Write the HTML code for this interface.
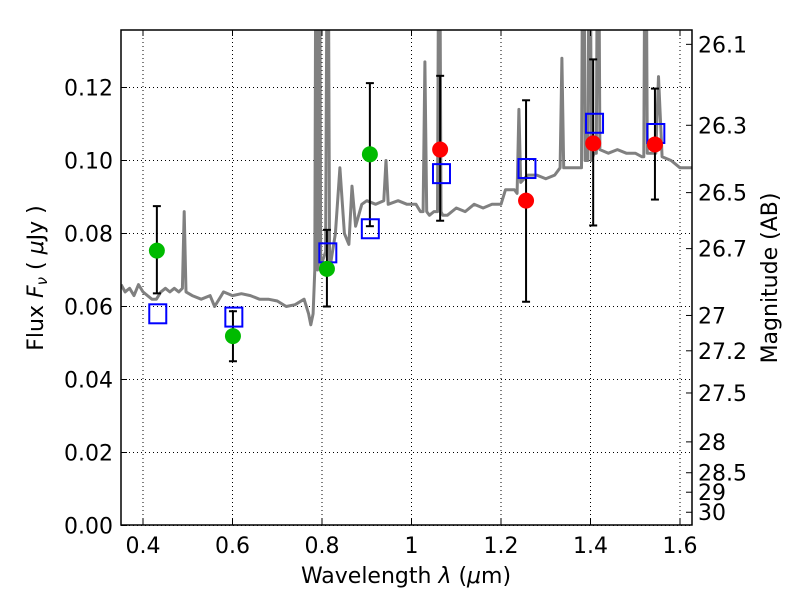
<!DOCTYPE html>
<html><head><meta charset="utf-8"><style>
body{margin:0;background:#fff;width:800px;height:600px;overflow:hidden;position:relative}
svg{font-family:"DejaVu Sans","Liberation Sans",sans-serif}
</style></head><body>
<svg id="chart" width="800" height="600" xmlns="http://www.w3.org/2000/svg"></svg>
<script>
const specLam=[0.351,0.36,0.37,0.38,0.39,0.40,0.41,0.42,0.43,0.44,0.45,0.46,0.47,0.48,0.488,0.492,0.496,0.51,0.53,0.55,0.56,0.575,0.58,0.60,0.62,0.64,0.66,0.68,0.70,0.72,0.74,0.76,0.77,0.775,0.78,0.784,0.787,0.790,0.794,0.797,0.800,0.808,0.813,0.817,0.83,0.84,0.85,0.86,0.867,0.875,0.889,0.90,0.92,0.938,0.943,0.948,0.97,0.99,1.01,1.02,1.026,1.030,1.034,1.04,1.05,1.058,1.062,1.066,1.07,1.08,1.10,1.12,1.14,1.16,1.18,1.20,1.21,1.23,1.236,1.240,1.244,1.26,1.28,1.30,1.32,1.332,1.336,1.340,1.36,1.375,1.380,1.384,1.388,1.394,1.398,1.402,1.408,1.413,1.417,1.421,1.44,1.46,1.48,1.50,1.515,1.519,1.523,1.527,1.54,1.546,1.552,1.56,1.58,1.60,1.627];
const specFlux=[0.066,0.064,0.065,0.063,0.066,0.064,0.063,0.062,0.062,0.064,0.065,0.064,0.065,0.064,0.065,0.086,0.064,0.063,0.062,0.063,0.060,0.063,0.064,0.063,0.0635,0.063,0.062,0.062,0.0615,0.060,0.0605,0.062,0.058,0.055,0.058,0.070,0.20,0.07,0.20,0.07,0.072,0.075,0.20,0.07,0.080,0.098,0.080,0.077,0.093,0.082,0.088,0.089,0.088,0.089,0.100,0.088,0.089,0.088,0.088,0.086,0.086,0.127,0.086,0.085,0.086,0.086,0.20,0.086,0.085,0.085,0.087,0.086,0.088,0.087,0.088,0.088,0.092,0.092,0.091,0.114,0.094,0.096,0.096,0.095,0.096,0.098,0.128,0.098,0.098,0.098,0.098,0.20,0.10,0.10,0.20,0.10,0.102,0.102,0.20,0.103,0.102,0.103,0.102,0.102,0.101,0.101,0.20,0.102,0.102,0.102,0.123,0.101,0.100,0.098,0.098,0.096];
const greenLam=[0.431,0.601,0.811,0.907];
const greenFlux=[0.0753,0.0519,0.0703,0.1017];
const greenLo=[0.0636,0.045,0.060,0.082];
const greenHi=[0.0875,0.0587,0.081,0.1212];
const redLam=[1.064,1.256,1.406,1.544];
const redFlux=[0.1030,0.0890,0.1047,0.1044];
const redLo=[0.0835,0.0613,0.0822,0.0893];
const redHi=[0.1232,0.1165,0.1277,0.1197];
const sqLam=[0.433,0.603,0.813,0.908,1.067,1.258,1.409,1.546];
const sqFlux=[0.0580,0.0571,0.0747,0.0813,0.0964,0.0978,0.1102,0.1074];
const xTicks=[0.4,0.6,0.8,1.0,1.2,1.4,1.6];
const xTickLabels=["0.4","0.6","0.8","1","1.2","1.4","1.6"];
const yTicks=[0,0.02,0.04,0.06,0.08,0.10,0.12];
const yTickLabels=["0.00","0.02","0.04","0.06","0.08","0.10","0.12"];
const magTicks=[26.1,26.3,26.5,26.7,27,27.2,27.5,28,28.5,29,30];
const magTickLabels=["26.1","26.3","26.5","26.7","27","27.2","27.5","28","28.5","29","30"];

const L=121,R=692,T=30,B=525;
const X=v=>143+(v-0.4)*447.5;
const Y=v=>525.5-v*3650;
const svg=document.getElementById('chart');
const NS='http://www.w3.org/2000/svg';
function mk(tag,attrs,parent){const e=document.createElementNS(NS,tag);for(const k in attrs)e.setAttribute(k,attrs[k]);(parent||svg).appendChild(e);return e;}
const clip=mk('clipPath',{id:'pc'});mk('rect',{x:L,y:T,width:R-L,height:B-T},clip);
const grid=mk('g',{});


xTicks.forEach(v=>{mk('line',{x1:X(v),x2:X(v),y1:T,y2:B,stroke:'#000','stroke-width':1,'stroke-dasharray':'1,3'},grid);});
yTicks.forEach(v=>{mk('line',{x1:L,x2:R,y1:Y(v),y2:Y(v),stroke:'#000','stroke-width':1,'stroke-dasharray':'1,3'},grid);});
let d='';specLam.forEach((l,i)=>{d+=(i?'L':'M')+X(l).toFixed(1)+','+Y(specFlux[i]).toFixed(1);});
const sp=mk('path',{d:d,fill:'none',stroke:'#808080','stroke-width':3,'stroke-linejoin':'round','clip-path':'url(#pc)'});


function errbar(lam,lo,hi,name){const g=mk('g',{stroke:'#000','stroke-width':2});


const x=X(lam);mk('line',{x1:x,x2:x,y1:Y(lo),y2:Y(hi)},g);mk('line',{x1:x-4,x2:x+4,y1:Y(lo),y2:Y(lo)},g);mk('line',{x1:x-4,x2:x+4,y1:Y(hi),y2:Y(hi)},g);}
greenLam.forEach((l,i)=>errbar(l,greenLo[i],greenHi[i],'green-errorbar'));
redLam.forEach((l,i)=>errbar(l,redLo[i],redHi[i],'red-errorbar'));
sqLam.forEach((l,i)=>{const r=mk('rect',{x:X(l)-8.5,y:Y(sqFlux[i])-9.5,width:17,height:19,fill:'none',stroke:'#0000ff','stroke-width':2});

});
greenLam.forEach((l,i)=>{const c=mk('circle',{cx:X(l),cy:Y(greenFlux[i]),r:8,fill:'#00bb00'});

});
redLam.forEach((l,i)=>{const c=mk('circle',{cx:X(l),cy:Y(redFlux[i]),r:8,fill:'#ff0000'});

});
const fr=mk('rect',{x:L,y:T,width:R-L,height:B-T,fill:'none',stroke:'#000','stroke-width':1.5});


xTicks.forEach((v,i)=>{mk('line',{x1:X(v),x2:X(v),y1:B,y2:B-6,stroke:'#000'});mk('line',{x1:X(v),x2:X(v),y1:T,y2:T+6,stroke:'#000'});
const t=mk('text',{x:X(v),y:B+28,'text-anchor':'middle','font-size':22});t.textContent=xTickLabels[i];

});
yTicks.forEach((v,i)=>{mk('line',{x1:L,x2:L+6,y1:Y(v),y2:Y(v),stroke:'#000'});
const t=mk('text',{x:L-8,y:Y(v)+8,'text-anchor':'end','font-size':22});t.textContent=yTickLabels[i];

});
magTicks.forEach((m,i)=>{const f=Math.pow(10,(23.9-m)/2.5);const y=Y(f);mk('line',{x1:R,x2:R-6,y1:y,y2:y,stroke:'#000'});
const t=mk('text',{x:R+6,y:y+8,'font-size':22});t.textContent=magTickLabels[i];

});
</script>
<svg style="position:absolute;left:0;top:0" width="800" height="600" font-family="DejaVu Sans, Liberation Sans, sans-serif">
<text x="406" y="583" text-anchor="middle" font-size="22">Wavelength  <tspan font-style="italic">λ</tspan> (<tspan font-style="italic">μ</tspan>m)</text>
<text transform="translate(43,278) rotate(-90)" text-anchor="middle" font-size="22">Flux  <tspan font-style="italic">F</tspan><tspan font-style="italic" font-size="15" dy="4">ν</tspan><tspan dy="-4">  ( </tspan><tspan font-style="italic">μ</tspan>Jy )</text>
<text transform="translate(777,278) rotate(-90)" text-anchor="middle" font-size="22">Magnitude (AB)</text>
</svg>
</body></html>
